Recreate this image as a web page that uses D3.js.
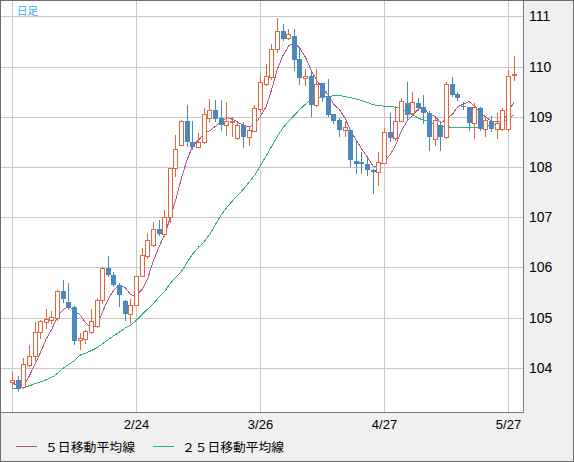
<!DOCTYPE html>
<html><head><meta charset="utf-8">
<script src="https://cdn.jsdelivr.net/npm/d3@7"></script>
<style>
html,body{margin:0;padding:0;background:#f0f0f0;}
svg{display:block;}
</style></head>
<body>
<svg id="c" width="574" height="462"></svg>
<script>
const openP = [103.71,103.76,103.62,104.06,104.23,104.72,104.92,104.96,105.00,105.53,
105.30,105.21,104.55,104.58,104.72,104.84,105.34,105.99,105.85,105.65,
105.33,105.06,105.25,105.82,106.22,106.45,106.77,106.67,107.00,107.98,
108.44,108.92,108.49,108.39,108.49,108.97,109.14,108.97,108.83,108.89,
108.58,108.84,108.59,108.71,109.15,109.66,109.80,110.35,110.70,110.57,
110.61,110.15,109.77,109.82,109.24,109.68,109.40,109.06,108.94,108.73,
108.73,108.12,108.09,108.06,107.94,107.89,108.08,108.70,108.58,108.92,
109.27,109.07,109.27,109.20,109.07,108.56,108.84,108.59,109.65,109.45,
109.22,109.20,108.87,109.17,108.76,108.91,108.76,108.76,108.76,109.83];
const highP = [103.92,103.83,104.19,104.46,104.91,104.96,105.17,105.12,105.55,105.74,
105.69,105.22,104.69,104.76,105.17,105.39,106.00,106.22,105.90,105.69,
105.35,105.37,105.83,106.38,106.68,106.90,106.95,107.15,107.98,108.64,
108.93,109.24,108.92,108.68,109.17,109.36,109.34,109.34,109.29,109.00,
108.87,108.89,108.81,109.24,109.86,110.04,110.45,110.97,110.85,110.75,
110.75,110.35,109.95,109.92,109.95,109.68,109.75,109.06,108.97,108.91,
108.73,108.54,108.29,108.22,107.96,108.29,108.78,109.07,109.21,109.37,
109.70,109.50,109.37,109.44,109.11,109.01,108.91,109.70,109.80,109.50,
109.30,109.20,109.27,109.20,109.01,109.01,109.07,109.17,109.94,110.20];
const lowP = [103.63,103.53,103.59,104.03,104.16,104.59,104.79,104.90,104.96,105.31,
105.16,104.48,104.38,104.50,104.70,104.82,105.29,105.82,105.62,105.22,
104.96,104.90,105.24,105.82,106.19,106.42,106.65,106.62,106.91,107.81,
108.43,108.41,108.36,108.39,108.48,108.91,108.92,108.74,108.63,108.61,
108.56,108.39,108.44,108.71,109.11,109.64,109.75,110.28,110.53,110.55,
109.94,109.66,109.64,109.01,109.21,109.32,109.02,108.87,108.61,108.61,
108.01,107.88,107.88,107.84,107.48,107.63,108.08,108.52,108.54,108.91,
108.94,109.04,109.14,108.87,108.34,108.44,108.34,108.58,109.41,109.34,
109.16,108.74,108.58,108.74,108.61,108.71,108.58,108.74,108.74,109.74];
const closeP = [103.76,103.58,104.07,104.23,104.71,104.94,104.97,105.01,105.53,105.37,
105.21,104.54,104.59,104.74,104.94,105.34,105.99,105.84,105.65,105.44,
105.06,105.25,105.82,106.24,106.55,106.77,106.67,107.00,107.98,108.36,
108.92,108.49,108.39,108.50,109.06,109.14,108.96,108.83,108.92,108.92,
108.84,108.59,108.74,109.17,109.69,109.82,110.35,110.70,110.55,110.65,
110.12,109.77,109.82,109.24,109.66,109.37,109.04,108.92,108.73,108.79,
108.13,108.06,108.06,107.93,107.89,108.09,108.70,108.58,108.92,109.32,
109.04,109.30,109.17,109.07,108.59,108.94,108.59,109.65,109.44,109.37,
109.19,108.87,109.20,108.76,108.94,108.76,108.87,109.14,109.82,109.85];
const ma5 = [103.70,103.63,103.64,103.84,104.07,104.31,104.58,104.77,105.03,105.16,
105.22,105.13,105.05,104.89,104.80,104.83,105.12,105.37,105.55,105.65,
105.60,105.45,105.44,105.56,105.78,106.13,106.41,106.65,106.99,107.36,
107.79,108.15,108.43,108.53,108.67,108.72,108.81,108.90,108.98,108.95,
108.89,108.82,108.80,108.85,109.01,109.20,109.55,109.95,110.22,110.41,
110.47,110.36,110.18,109.92,109.72,109.57,109.43,109.25,109.14,108.97,
108.72,108.53,108.35,108.19,108.01,108.01,108.13,108.24,108.44,108.72,
108.91,109.03,109.15,109.18,109.03,109.01,108.87,108.97,109.04,109.20,
109.25,109.30,109.21,109.08,108.99,108.91,108.91,108.89,109.11,109.29];
const ma25 = [103.58,103.60,103.61,103.64,103.68,103.72,103.76,103.81,103.89,103.99,
104.07,104.14,104.25,104.29,104.34,104.40,104.48,104.56,104.64,104.71,
104.79,104.85,104.95,105.06,105.17,105.28,105.41,105.52,105.68,105.81,
105.92,106.10,106.27,106.40,106.51,106.66,106.85,107.04,107.19,107.32,
107.44,107.56,107.70,107.84,108.03,108.22,108.41,108.61,108.78,108.91,
109.03,109.15,109.25,109.34,109.37,109.39,109.40,109.42,109.42,109.40,
109.38,109.35,109.32,109.28,109.24,109.22,109.21,109.20,109.19,109.17,
109.09,109.04,108.97,108.93,108.90,108.84,108.81,108.80,108.79,108.79,
108.79,108.78,108.78,108.78,108.81,108.83,108.86,108.89,108.96,109.04];
const xTickIdx = [0, 22, 44, 66, 88];
const xTickLabels = ["", "2/24", "3/26", "4/27", "5/27"];
const yTicks = [104, 105, 106, 107, 108, 109, 110, 111];
const legendLabels = ["５日移動平均線", "２５日移動平均線"];
const periodLabel = "日足";

const W = 574, H = 462;
const plot = {l: 1, t: 1, r: 523, b: 412};
const upColor = "#e0673f", downColor = "#4a88bf";
const ma5Color = "#b4588c", ma25Color = "#2db36e";
const gridColor = "#c8c8c8";

const svg = d3.select("#c");
svg.append("rect").attr("x",0).attr("y",0).attr("width",W).attr("height",H).attr("fill","#f0f0f0");
svg.append("rect").attr("x",plot.l).attr("y",plot.t).attr("width",plot.r-plot.l).attr("height",plot.b-plot.t).attr("fill","#fff");

const x = d3.scaleLinear().domain([0, 88]).range([12, 508]);
const y = d3.scaleLinear().domain([104, 111]).range([367.7, 16.3]);
const yr = y.copy().interpolate(d3.interpolateRound);
const xr = x.copy().interpolate(d3.interpolateRound);

// y axis + grid
const ya = svg.append("g").attr("transform", `translate(${plot.r},0)`)
  .call(d3.axisRight(yr).tickValues(yTicks).tickSizeInner(-(plot.r-plot.l)).tickSizeOuter(0).tickPadding(6).tickFormat(d3.format("d")));
ya.select(".domain").remove();
ya.selectAll(".tick line").attr("stroke", gridColor);
ya.selectAll(".tick text").attr("fill","#000").style("font-family","'Liberation Sans', Arial, sans-serif").style("font-size","14px");

// x axis + grid
const xa = svg.append("g").attr("transform", `translate(0,${plot.b})`)
  .call(d3.axisBottom(xr).tickValues(xTickIdx).tickSizeInner(-(plot.b-plot.t)).tickSizeOuter(0).tickPadding(8)
    .tickFormat((d,i) => xTickLabels[i]));
xa.select(".domain").remove();
xa.selectAll(".tick line").attr("stroke", gridColor);
xa.selectAll(".tick text").attr("fill","#000").style("font-family","'Liberation Sans', Arial, sans-serif").style("font-size","13px");

// plot border
svg.append("path").attr("d", `M${plot.r+0.5},0V${plot.b+0.5}H0`).attr("fill","none").attr("stroke","#7a7a7a");
svg.append("rect").attr("x",0.5).attr("y",0.5).attr("width",W-1).attr("height",H-1).attr("fill","none").attr("stroke","#6e6e6e");

// moving averages
const idx = d3.range(closeP.length);
const line = (arr) => d3.line().x(i => x(i) + 0.5).y(i => y(arr[i]))(idx);
svg.append("path").attr("d", line(ma25)).attr("fill","none").attr("stroke", ma25Color).attr("stroke-width",1).attr("shape-rendering","crispEdges");
svg.append("path").attr("d", line(ma5)).attr("fill","none").attr("stroke", ma5Color).attr("stroke-width",1).attr("shape-rendering","crispEdges");

// candles
const cg = svg.append("g").attr("shape-rendering","crispEdges");
idx.forEach(i => {
  const c = Math.round(x(i));
  const o = openP[i], cl = closeP[i];
  const up = cl >= o;
  const col = up ? upColor : downColor;
  const yh = Math.round(y(highP[i])), yl = Math.round(y(lowP[i]));
  let yt = Math.round(y(Math.max(o, cl))), yb = Math.round(y(Math.min(o, cl)));
  if (yb - yt < 1) yb = yt + 1;
  cg.append("line").attr("x1", c + 0.5).attr("x2", c + 0.5).attr("y1", yh).attr("y2", yl + 1).attr("stroke", col);
  if (up) {
    cg.append("rect").attr("x", c - 1.5).attr("y", yt + 0.5).attr("width", 4).attr("height", Math.max(1, yb - yt))
      .attr("fill", "#fff").attr("stroke", col);
  } else {
    cg.append("rect").attr("x", c - 2).attr("y", yt).attr("width", 5).attr("height", Math.max(1, yb - yt)).attr("fill", col);
  }
});

// period label
svg.append("text").attr("x", 17).attr("y", 15).text(periodLabel)
  .attr("fill", "#33b0e6").style("font-family","'Noto Sans CJK JP', sans-serif").style("font-size","11px")
  .attr("textLength", 21).attr("lengthAdjust", "spacingAndGlyphs");

// legend
const lg = svg.append("g");
const legendX = [16, 153];
const legendW = [90, 102];
[ma5Color, ma25Color].forEach((col, k) => {
  lg.append("line").attr("x1", legendX[k]).attr("x2", legendX[k] + 21).attr("y1", 446.5).attr("y2", 446.5).attr("stroke", col);
  lg.append("text").attr("x", legendX[k] + 29).attr("y", 452).text(legendLabels[k])
    .attr("fill", "#000").style("font-family","'Noto Sans CJK JP', sans-serif").style("font-size","12px")
    .attr("textLength", legendW[k]).attr("lengthAdjust", "spacingAndGlyphs");
});
</script>
</body></html>
